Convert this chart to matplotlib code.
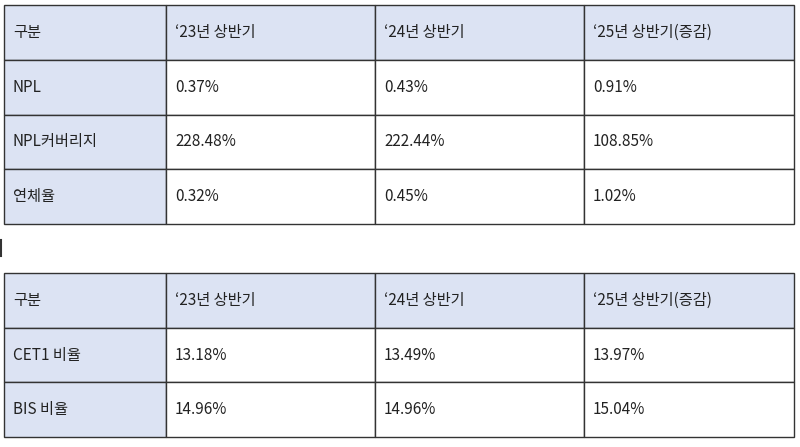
import matplotlib
matplotlib.use('Agg')
import matplotlib.pyplot as plt
from matplotlib.patches import Rectangle

plt.rcParams['font.family'] = ['Noto Sans CJK KR', 'DejaVu Sans']

headers = ['구분', '‘23년 상반기', '‘24년 상반기', '‘25년 상반기(증감)']
rows1 = ['NPL', 'NPL커버리지', '연체율']
vals1 = [['0.37%', '0.43%', '0.91%'],
         ['228.48%', '222.44%', '108.85%'],
         ['0.32%', '0.45%', '1.02%']]
rows2 = ['CET1 비율', 'BIS 비율']
vals2 = [['13.18%', '13.49%', '13.97%'],
         ['14.96%', '14.96%', '15.04%']]

W, H = 800, 447
fig = plt.figure(figsize=(W / 100, H / 100), dpi=100)
ax = fig.add_axes([0, 0, 1, 1])
ax.set_xlim(0, W)
ax.set_ylim(H, 0)
ax.axis('off')

col_x = [4, 166, 375, 584, 794]
fill = '#dce3f3'
edge = '#333333'


def draw_table(top, row_h, labels, values):
    table = [headers] + [[lab] + v for lab, v in zip(labels, values)]
    for r, row in enumerate(table):
        y = top + r * row_h
        for c, txt in enumerate(row):
            x0, x1 = col_x[c], col_x[c + 1]
            fc = fill if (r == 0 or c == 0) else 'white'
            ax.add_patch(Rectangle((x0, y), x1 - x0, row_h, facecolor=fc,
                                   edgecolor=edge, linewidth=1.0))
            ax.text(x0 + 9, y + row_h / 2, txt, ha='left', va='center',
                    fontsize=11, color='#222222')


draw_table(5, 54.75, rows1, vals1)
draw_table(273, 54.7, rows2, vals2)
ax.plot([1, 1], [240, 256], color='#333333', lw=1.5)

fig.savefig('out.png', dpi=100)
